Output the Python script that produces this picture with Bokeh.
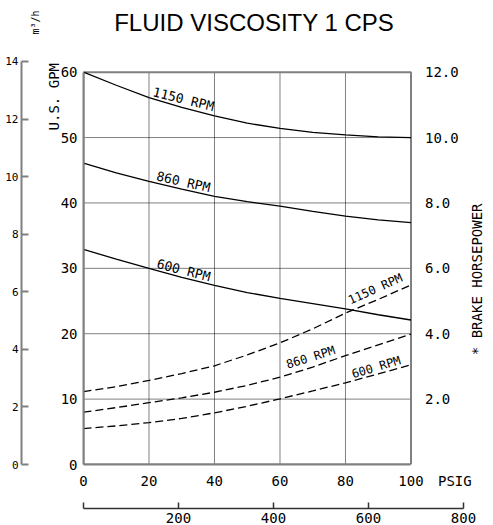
import math
from bokeh.plotting import figure
from bokeh.models import Range1d, LinearAxis, FixedTicker
from bokeh.core.properties import value
from bokeh.embed import file_html
from bokeh.resources import INLINE

# ---------------- data ----------------
psig = [0, 10, 20, 30, 40, 50, 60, 70, 80, 90, 100]
gpm_1150 = [60.0, 58.0, 56.1, 54.6, 53.3, 52.2, 51.4, 50.8, 50.4, 50.1, 50.0]
gpm_860 = [46.1, 44.6, 43.3, 42.1, 41.0, 40.2, 39.5, 38.7, 38.0, 37.4, 37.0]
gpm_600 = [32.9, 31.4, 30.0, 28.6, 27.4, 26.3, 25.4, 24.6, 23.8, 22.9, 22.1]
bhp_1150 = [2.23, 2.38, 2.57, 2.78, 3.02, 3.35, 3.72, 4.15, 4.63, 5.05, 5.49]
bhp_860 = [1.60, 1.74, 1.89, 2.04, 2.21, 2.42, 2.67, 2.98, 3.33, 3.66, 3.99]
bhp_600 = [1.10, 1.18, 1.28, 1.41, 1.58, 1.78, 2.01, 2.25, 2.50, 2.77, 3.05]
rpm_labels = ["1150 RPM", "860 RPM", "600 RPM"]

psig_ticks = [0, 20, 40, 60, 80, 100]
gpm_ticks = [0, 10, 20, 30, 40, 50, 60]
bhp_ticks = [2.0, 4.0, 6.0, 8.0, 10.0, 12.0]
m3h_ticks = [0, 2, 4, 6, 8, 10, 12, 14]
kpa_ticks = [0, 200, 400, 600, 800]

TITLE = "FLUID VISCOSITY 1 CPS"
GPM_LABEL = "U.S. GPM"
M3H_LABEL = "m³/h"
BHP_LABEL = "* BRAKE HORSEPOWER"
PSIG_LABEL = "PSIG"

GPM_PER_M3H = 4.40287
PSI_PER_KPA = 0.145038
PSIG_MAX, GPM_MAX, BHP_MAX = 100, 60, 12

# placement of unit texts along their scales (layout, not data)
PSIG_LABEL_AT = 113.4     # psi
GPM_LABEL_AT = 61.4       # GPM (top end of the rotated text)
M3H_LABEL_AT = 15.77      # m3/h (top end of the rotated text)
X_END = 125.2             # visible psi span (to the right page edge)
Y_END = 70.96             # visible GPM span (to the top page edge)

MONO = "DejaVu Sans Mono"
GRAY = "#808080"

p = figure(width=493, height=525, x_range=Range1d(0, X_END), y_range=Range1d(0, Y_END),
           output_backend="svg", toolbar_location=None, title=None,
           x_axis_type=None, y_axis_type=None,
           min_border_left=83, min_border_right=0, min_border_top=0, min_border_bottom=59)
p.outline_line_color = None
p.background_fill_color = "white"
p.border_fill_color = "white"
p.extra_y_ranges = {"hp": Range1d(0, Y_END * BHP_MAX / GPM_MAX),
                    "m3h": Range1d(0, Y_END / GPM_PER_M3H)}
p.extra_x_ranges = {"kpa": Range1d(0, X_END / PSI_PER_KPA)}


def plain_axis(ticks, size="14px", **kw):
    ax = LinearAxis(ticker=FixedTicker(ticks=ticks), **kw)
    ax.major_label_text_font = MONO
    ax.major_label_text_font_size = size
    ax.major_label_text_color = "black"
    ax.minor_tick_in = 0
    ax.minor_tick_out = 0
    return ax


def spacer(size, at):
    return plain_axis([at], "1px", axis_line_color=None, major_tick_in=0, major_tick_out=size,
                      major_tick_line_color=None, major_label_overrides={at: ""},
                      major_label_standoff=0)


# ---- left axes (inner to outer) ----
p.add_layout(plain_axis(gpm_ticks, bounds=(0, GPM_MAX), axis_line_color=GRAY, axis_line_width=2,
                        major_tick_in=0, major_tick_out=0, major_label_standoff=6), "left")
p.add_layout(plain_axis([GPM_LABEL_AT], "14px", major_label_overrides={GPM_LABEL_AT: GPM_LABEL},
                        major_label_orientation=math.pi / 2, axis_line_color=None,
                        major_tick_in=0, major_tick_out=0, major_label_standoff=3), "left")
p.add_layout(plain_axis([M3H_LABEL_AT], "10px", y_range_name="m3h",
                        major_label_overrides={M3H_LABEL_AT: M3H_LABEL},
                        major_label_orientation=math.pi / 2, axis_line_color=None,
                        major_tick_in=0, major_tick_out=0, major_label_standoff=0), "left")
p.add_layout(plain_axis(m3h_ticks, "11px", y_range_name="m3h", bounds=(0, m3h_ticks[-1]),
                        axis_line_color=GRAY, axis_line_width=2,
                        major_tick_in=7, major_tick_out=0, major_tick_line_color=GRAY,
                        major_tick_line_width=2, major_label_standoff=3), "left")

# ---- bottom axes ----
p.add_layout(plain_axis([], bounds=(0, PSIG_MAX), axis_line_color=GRAY, axis_line_width=2,
                        major_tick_in=0, major_tick_out=0, major_label_standoff=0), "below")
p.add_layout(plain_axis(psig_ticks + [PSIG_LABEL_AT],
                        major_label_overrides={PSIG_LABEL_AT: PSIG_LABEL}, axis_line_color=None,
                        major_tick_in=0, major_tick_out=0, major_label_standoff=8), "below")
p.add_layout(spacer(17, 50), "below")
p.add_layout(plain_axis(kpa_ticks, x_range_name="kpa", bounds=(0, kpa_ticks[-1]),
                        major_label_overrides={0: ""},
                        axis_line_color="#333333", axis_line_width=1.5,
                        major_tick_in=6, major_tick_out=0, major_tick_line_color="#333333",
                        major_tick_line_width=1.5, major_label_standoff=4), "below")

# ---- title ----
p.text(x=[PSIG_MAX / 2], y=[Y_END], text=[TITLE], x_offset=7, y_offset=22,
       text_align="center", text_baseline="middle",
       text_font=value("Liberation Sans"), text_font_size="24px", text_color="black")

# ---- right side: brake horsepower scale next to the frame ----
p.text(x=[PSIG_MAX] * len(bhp_ticks), y=bhp_ticks, text=[f"{v:.1f}" for v in bhp_ticks],
       y_range_name="hp", x_offset=14, text_align="left", text_baseline="middle",
       text_font=value(MONO), text_font_size="14px", text_color="black")
p.text(x=[PSIG_MAX], y=[BHP_MAX / 2], text=[BHP_LABEL], y_range_name="hp",
       x_offset=66, y_offset=11, angle=math.pi / 2, text_align="center", text_baseline="middle",
       text_font=value(MONO), text_font_size="14px", text_color="black")

# ---- grid ----
gx = psig_ticks[1:-1]
gy = gpm_ticks[1:-1]
p.segment(x0=gx, y0=[0] * len(gx), x1=gx, y1=[GPM_MAX] * len(gx),
          line_color="black", line_width=1, line_dash="1 1")
p.segment(x0=[0] * len(gy), y0=gy, x1=[PSIG_MAX] * len(gy), y1=gy,
          line_color="black", line_width=1, line_dash="1 1")

# frame
p.quad(left=[0], right=[PSIG_MAX], bottom=[0], top=[GPM_MAX], fill_color=None,
       line_color=GRAY, line_width=2)

# ---- curves ----
for ys in (gpm_1150, gpm_860, gpm_600):
    p.line(psig, ys, line_color="black", line_width=1.3)
for ys in (bhp_1150, bhp_860, bhp_600):
    p.line(psig, ys, y_range_name="hp", line_color="black", line_width=1.3, line_dash="8 4")

# curve labels
i = 3
p.text(x=[psig[i]] * 3, y=[gpm_1150[i], gpm_860[i], gpm_600[i]], text=rpm_labels,
       angle=[-0.24, -0.22, -0.25], text_align="center", text_baseline="bottom",
       y_offset=[-1, 0, 0], text_font=value(MONO), text_font_size="13px", text_color="black")
p.text(x=[psig[9], psig[7], psig[9]], y=[bhp_1150[9], bhp_860[7], bhp_600[9]], text=rpm_labels,
       y_range_name="hp", angle=[0.42, 0.30, 0.29], text_align="center", text_baseline="bottom",
       y_offset=[-4, -3, 0], text_font=value(MONO), text_font_size="12px", text_color="black")

open("out.html", "w").write(file_html(p, INLINE))
